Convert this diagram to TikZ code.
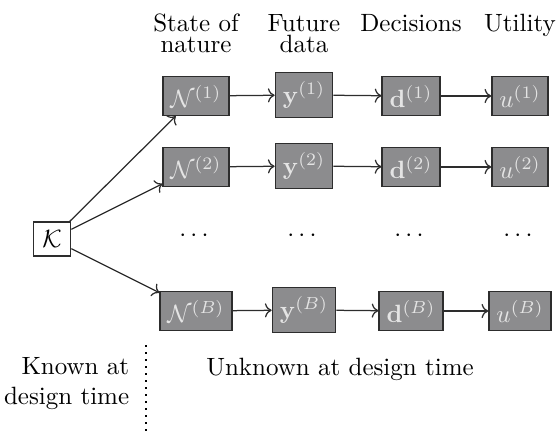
\documentclass[tikz,border=0pt]{standalone}
\usepackage{amsmath}
\usetikzlibrary{arrows.meta}
\definecolor{boxfill}{RGB}{140,140,142}
\definecolor{boxtext}{RGB}{228,228,228}
\definecolor{boxedge}{RGB}{45,45,45}
\begin{document}
\begin{tikzpicture}[x=0.4pt,y=-0.4pt,
  state/.style={draw=boxedge,line width=0.5pt,fill=boxfill,text=boxtext,
    inner sep=3pt,minimum height=15.6pt},
  tall/.style={state,minimum height=18pt},
  origin/.style={draw=boxedge,line width=0.5pt,fill=white,inner sep=3pt,
    minimum width=15pt,minimum height=13.6pt},
  link/.style={->,line width=0.5pt,draw=boxedge},
  head/.style={align=center,anchor=base,font={\fontsize{10}{8.4}\selectfont}},
  note/.style={anchor=base}]
\useasboundingbox (0,0) rectangle (558,432);

% column headings (base anchor sits on the last line)
\node[head] (h1) at (196,53) {State of\\nature};
\node[head] (h2) at (304,53) {Future\\data};
\node[head] (h3) at (411,32) {Decisions};
\node[head] (h4) at (520,32) {Utility};

% prior knowledge
\node[origin] (K) at (52,239) {$\mathcal{K}$};

% row 1
\node[state] (N1) at (196,96) {$\mathcal{N}^{(1)}$};
\node[tall]  (Y1) at (304,95) {$\mathbf{y}^{(1)}$};
\node[state] (D1) at (411,96) {$\mathbf{d}^{(1)}$};
\node[state] (U1) at (520,96) {$u^{(1)}$};

% row 2
\node[state] (N2) at (196,167) {$\mathcal{N}^{(2)}$};
\node[tall]  (Y2) at (304,166) {$\mathbf{y}^{(2)}$};
\node[state] (D2) at (411,167) {$\mathbf{d}^{(2)}$};
\node[state] (U2) at (520,167) {$u^{(2)}$};

% ellipsis row
\node (e1) at (196,236) {$\cdots$};
\node (e2) at (304,236) {$\cdots$};
\node (e3) at (411,236) {$\cdots$};
\node (e4) at (520,236) {$\cdots$};

% row B
\node[state] (NB) at (196,311) {$\mathcal{N}^{(B)}$};
\node[tall]  (YB) at (304,310) {$\mathbf{y}^{(B)}$};
\node[state] (DB) at (411,311) {$\mathbf{d}^{(B)}$};
\node[state] (UB) at (520,311) {$u^{(B)}$};

% connectors
\foreach \r in {1,2,B}{
  \draw[link] (K) -- (N\r);
  \draw[link] (N\r) -- (Y\r);
  \draw[link] (Y\r) -- (D\r);
  \draw[link] (D\r) -- (U\r);
}

% design-time split
\coordinate (sepTop) at (146,345);
\coordinate (sepBot) at (146,432);
\draw[dotted,line width=0.8pt] (sepTop) -- (sepBot);
\node[note,align=right,anchor=base east] (known) at (138,404) {Known at\\design time};
\node[note] (unknown) at (340,375) {Unknown at design time};
\end{tikzpicture}
\end{document}
